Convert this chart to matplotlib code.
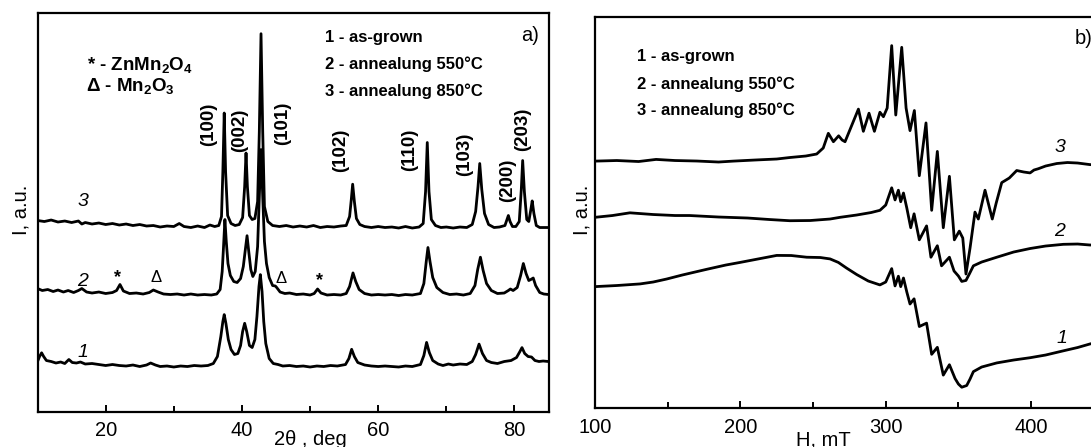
import matplotlib
matplotlib.use('Agg')
import matplotlib.pyplot as plt

plt.rcParams['font.family'] = ['Liberation Sans', 'DejaVu Sans']
plt.rcParams['mathtext.fontset'] = 'custom'
plt.rcParams['mathtext.rm'] = 'Liberation Sans:bold'
plt.rcParams['mathtext.it'] = 'Liberation Sans:bold'

# a) XRD, 2theta (deg) and intensity (a.u.)
tt3 = [10, 11, 12, 13, 14, 15, 16, 16.5, 17, 18, 19, 20, 21, 22, 23, 24, 25, 26, 27, 28, 29, 30, 30.8, 31.5,
       32.5, 33.5, 34.5, 35.3, 36, 36.6, 37.0, 37.2, 37.4, 37.6, 37.9, 38.4, 39.0, 39.6, 40.1, 40.4, 40.6, 40.8,
       41.1, 41.5, 41.9, 42.3, 42.55, 42.8, 43.05, 43.3, 43.8, 44.5, 45.5, 46.5, 47.5, 48.5, 49.5, 50.5, 51.5,
       52.5, 53.5, 54.5, 55.3, 55.8, 56.05, 56.25, 56.5, 56.8, 57.3, 58, 59, 60, 61, 62, 63, 64, 65, 66, 66.6,
       66.95, 67.2, 67.45, 67.8, 68.4, 69.2, 70, 71, 72, 73, 73.8, 74.3, 74.65, 74.9, 75.2, 75.6, 76.2, 77, 77.8,
       78.6, 78.9, 79.1, 79.35, 79.7, 80.2, 80.7, 81.0, 81.2, 81.45, 81.8, 82.1, 82.4, 82.6, 82.85, 83.2, 83.7,
       84.3, 85]
xrd3 = [191, 190, 191.5, 189.5, 190.5, 189, 190.5, 187.5, 189, 187.5, 188.5, 187, 188, 186.5, 187.5, 186, 187,
        185.5, 186, 184.5, 185.5, 185, 188, 185, 184, 185.5, 184, 186.5, 185, 186, 195, 240, 298.5, 240, 196,
        188, 186, 187, 194, 225, 258.5, 225, 196, 192, 193, 210, 280, 377.8, 280, 205, 190, 186, 185, 186,
        184.5, 185.5, 184.5, 186, 184, 185, 184.5, 185.5, 186, 195, 212, 227.3, 210, 193, 187, 185, 184, 185,
        184, 184.5, 183.5, 185, 183.5, 184.5, 188, 220, 269, 220, 192, 186, 184, 184.5, 183.5, 184.5, 184, 187,
        200, 225, 248, 222, 198, 187, 184, 184.5, 186, 192, 196, 190, 185, 185, 190, 222, 251, 220, 192, 190,
        202, 210.6, 198, 186, 184, 184, 184]

tt2 = [10, 10.7, 11.5, 12.3, 13, 13.8, 14.5, 15.3, 16, 16.5, 17.2, 18, 19, 20, 21, 21.6, 22.1, 22.6, 23.5, 24.5,
       25.5, 26.4, 27, 27.7, 28.5, 29.5, 30.5, 31.5, 32.5, 33.5, 34.5, 35.5, 36.3, 36.8, 37.1, 37.3, 37.5, 37.7,
       37.95, 38.3, 38.8, 39.3, 39.8, 40.2, 40.5, 40.75, 41.0, 41.3, 41.6, 41.95, 42.3, 42.55, 42.8, 43.05, 43.3,
       43.6, 44.0, 44.5, 44.9, 45.1, 45.6, 46.3, 47, 48, 49, 50, 50.6, 51.1, 51.6, 52.5, 53.5, 54.5, 55.3, 55.8,
       56.3, 56.7, 57.2, 58, 59, 60, 61, 62, 63, 64, 65, 66.2, 66.7, 67.05, 67.3, 67.6, 68.0, 68.6, 69.5, 70.5,
       71.5, 72.5, 73.5, 74.2, 74.6, 75.0, 75.4, 75.9, 76.6, 77.5, 78.5, 79.1, 79.4, 79.8, 80.4, 80.9, 81.3, 81.7,
       82.1, 82.4, 82.75, 83.1, 83.7, 84.3, 85]
xrd2 = [123, 121, 122, 120, 121.5, 119.5, 121, 119, 121, 123, 119.5, 118.5, 119.5, 118, 119, 121, 127, 120.5,
        118, 118.5, 117.5, 119, 121.5, 119.5, 117.5, 117, 117.5, 116.5, 117.5, 116.5, 117, 116.5, 117.5, 122,
        140, 165, 192, 170, 148, 136, 130, 129, 133, 145, 162, 175.8, 160, 142, 135, 140, 165, 215, 262, 215,
        170, 148, 134, 126, 125.5, 124, 119.5, 118, 118.5, 117, 117.5, 116.5, 118, 122.5, 118.5, 116.5, 117,
        116.5, 118, 125, 138.6, 130, 122, 118, 116.5, 117, 116.5, 117, 116, 117, 116.5, 118, 128, 150, 164, 150,
        134, 124, 119, 117, 117.5, 116.5, 118, 126, 142, 154.3, 141, 128, 121, 118, 118.5, 121, 122.5, 121, 124,
        136, 148, 138, 131, 132, 133.5, 126, 119, 117.5, 117]

tt1 = [10, 10.3, 10.6, 10.9, 11.3, 12, 12.7, 13.4, 14, 14.6, 15.1, 15.7, 16.3, 17, 18, 19, 20, 21, 22, 23, 24,
       25, 26, 26.6, 27.3, 28, 29, 30, 31, 32, 33, 34, 35, 35.8, 36.4, 36.9, 37.2, 37.4, 37.65, 38.0, 38.4, 38.9,
       39.4, 39.8, 40.1, 40.4, 40.7, 41.1, 41.5, 41.9, 42.2, 42.5, 42.7, 42.95, 43.2, 43.5, 44.0, 44.6, 45.3, 46,
       47, 48, 49, 50, 51, 52, 53, 54, 55.2, 55.7, 56.1, 56.5, 57.0, 58, 59, 60, 61, 62, 63, 64, 65, 66.2, 66.7,
       67.1, 67.5, 68, 68.8, 69.5, 70.3, 71, 72, 73, 73.8, 74.3, 74.8, 75.3, 75.9, 76.6, 77.5, 78.5, 79.5, 80.3,
       80.8, 81.1, 81.5, 82.0, 82.5, 83.0, 83.6, 84.2, 85]
xrd1 = [50, 55, 58.7, 55, 51, 50, 48.5, 49.5, 48, 52, 49, 48.5, 49.5, 47.5, 48, 47, 46, 47, 46, 45.5, 46.5, 45,
        46.5, 48.5, 46.5, 45, 45.5, 44.5, 45.5, 45, 46, 45.5, 46, 48, 55, 75, 90, 96.9, 88, 72, 62, 57, 58, 66,
        80, 88.2, 80, 66, 64, 72, 95, 125, 136.9, 120, 90, 68, 53, 48, 47, 45.5, 46, 45, 45.5, 44.5, 45.5, 45,
        46, 45.5, 47, 53, 62.2, 55, 49, 46.5, 45.5, 45, 45.5, 45, 44.5, 45.5, 45, 47, 56, 69.1, 59, 51, 47.5, 46,
        47.5, 46.5, 47.5, 47, 50, 57, 67.4, 58, 51, 49, 48, 50, 51, 54, 60, 63.9, 58, 55, 54.5, 51, 50, 50.5, 50]

hkl_labels = ['(100)', '(002)', '(101)', '(102)', '(110)', '(103)', '(200)', '(203)']
hkl_x = [35.1, 39.65, 46.0, 54.55, 64.6, 72.7, 79.0, 81.25]
hkl_y = [287.5, 281.5, 288.5, 261.5, 261.5, 257.5, 231.5, 282.5]

# b) EPR, field (mT) and signal (a.u.)
h3 = [100, 115, 130, 142, 155, 170, 185, 195, 210, 225, 234, 245, 252.5, 257, 260.5, 264, 267.6, 270, 272, 276.6,
      281.2, 284.6, 288.5, 292.2, 296, 298.4, 301, 304.1, 306.9, 311, 314, 316.7, 319.7, 323.1, 327.7, 331.6,
      335.5, 339.6, 343.8, 347.2, 350.6, 353, 355.2, 358, 361.4, 363.7, 368.3, 373.3, 376, 379.8, 385, 390.1,
      395, 399.3, 402, 405, 410, 417.7, 425, 432, 440.6, 450]
epr3 = [246.9, 247.5, 246.5, 248.6, 247.5, 247, 246, 246.9, 248, 249, 250.5, 252, 254, 260, 274.7, 266.3, 272.2,
        268, 266.3, 282.6, 298.9, 276.7, 294.8, 276.7, 295.8, 291.3, 300, 362.4, 293, 360.7, 300, 277.4, 297.5,
        232.3, 285.1, 197.7, 256.6, 180.3, 231.7, 168.2, 176.9, 170, 134, 160, 195.9, 189, 217.8, 189, 205,
        225.4, 230, 237.5, 236, 235.1, 238, 239.3, 242, 244.5, 245.5, 245, 243.4, 243]

h2 = [100, 112, 124, 140, 155, 165, 185, 205, 220, 234, 248, 261.7, 268.6, 280, 290, 296, 300, 304.1, 306.4,
      308.7, 310.3, 312.2, 314.5, 317.2, 319.5, 323.1, 328.1, 331.1, 335.5, 338.4, 343.8, 347, 350, 352.3, 355.2,
      357.5, 360.3, 366, 376.4, 388, 399.3, 410, 422.2, 432, 440.6, 450]
epr2 = [190.7, 192.5, 195.2, 193.5, 192.5, 192.5, 191, 190, 188.5, 187.3, 187.5, 189, 190.7, 193, 195.5, 197.7,
        203, 220.2, 208.1, 217.8, 206.3, 215, 200, 180.3, 194.2, 168.2, 182.1, 150.8, 162.3, 142.2, 150.8, 137,
        132, 126.6, 127.6, 134, 142.2, 146, 150.8, 156, 159.5, 162, 163.7, 164, 163, 163.5]

h1 = [100, 115, 131, 140, 149.3, 160, 176.8, 190, 199.8, 212, 225, 235, 245.6, 255, 261.7, 267.4, 273, 280, 288,
      296, 300, 304.1, 306.4, 308.7, 310.3, 312.2, 314.5, 316.7, 319.5, 323.1, 328.1, 331.6, 335.5, 339.6, 343.8,
      347.7, 350, 352.3, 355.7, 358, 360.3, 366, 376.4, 388, 399.3, 410, 422.2, 432, 440.6, 450]
epr1 = [121.4, 122.5, 124.1, 126, 129, 133, 138.7, 143, 145.6, 149, 152.6, 152.5, 150.8, 150.5, 149.1, 145.6, 140,
        133.5, 127, 123.1, 126, 139.4, 122.1, 131.8, 121.4, 130, 116, 104, 109.2, 81.5, 84.9, 53.7, 60.7, 32.9,
        43.3, 29.5, 24, 20.8, 22.5, 29, 36.4, 41, 45.1, 48, 50.3, 53, 57.2, 60.5, 64.1, 67]

legend = ['1 - as-grown', '2 - annealung 550°C', '3 - annealung 850°C']

fig = plt.figure(figsize=(10.91, 4.47), dpi=100)
ax1 = fig.add_axes([0.0344, 0.0794, 0.4684, 0.8908])
ax2 = fig.add_axes([0.5454, 0.0872, 0.4663, 0.8754])

lw = 2.0
ax1.plot(tt3, xrd3, color='black', lw=lw)
ax1.plot(tt2, xrd2, color='black', lw=lw)
ax1.plot(tt1, xrd1, color='black', lw=lw)
ax1.set_xlim(10, 85)
ax1.set_ylim(0, 398.2)
ax1.set_xticks([20, 40, 60, 80])
ax1.set_xticks([30, 50, 70], minor=True)

ax2.plot(h3, epr3, color='black', lw=lw)
ax2.plot(h2, epr2, color='black', lw=lw)
ax2.plot(h1, epr1, color='black', lw=lw)
ax2.set_xlim(100, 450)
ax2.set_ylim(0, 391.3)
ax2.set_xticks([100, 200, 300, 400])
ax2.set_xticks([150, 250, 350], minor=True)

for ax in (ax1, ax2):
    ax.set_yticks([])
    for s in ax.spines.values():
        s.set_linewidth(1.6)
    ax.tick_params(axis='x', which='major', direction='in', length=5, width=1.4, labelsize=14.5, pad=7)
    ax.tick_params(axis='x', which='minor', direction='in', length=4, width=1.4)

# panel a) annotations
for lab, x, y in zip(hkl_labels, hkl_x, hkl_y):
    ax1.text(x, y, lab, rotation=90, ha='center', va='center', fontsize=13.5, fontweight='bold')
ax1.text(17.3, 342, '* - ZnMn$_2$O$_4$', fontsize=13.5, fontweight='bold', va='baseline')
ax1.text(17.1, 320.5, 'Δ - Mn$_2$O$_3$', fontsize=13.5, fontweight='bold', va='baseline')
for lab, y in zip(legend, [369.8, 342.7, 316]):
    ax1.text(52.2, y, lab, fontsize=12, fontweight='bold', va='baseline')
ax1.text(81.0, 376.5, 'a)', fontsize=14.5, va='center')
ax1.text(16.6, 209.9, '3', fontsize=14, style='italic', ha='center', va='center')
ax1.text(16.6, 130, '2', fontsize=14, style='italic', ha='center', va='center')
ax1.text(16.7, 58.7, '1', fontsize=14, style='italic', ha='center', va='center')
ax1.text(21.8, 133.5, '*', fontsize=13, fontweight='bold', ha='center', va='center')
ax1.text(27.35, 134.5, 'Δ', fontsize=12, ha='center', va='center')
ax1.text(45.75, 133.5, 'Δ', fontsize=12, ha='center', va='center')
ax1.text(51.45, 130.5, '*', fontsize=13, fontweight='bold', ha='center', va='center')

# panel b) annotations
for lab, y in zip(legend, [347.1, 319.2, 293.1]):
    ax2.text(129.1, y, lab, fontsize=12, fontweight='bold', va='baseline')
ax2.text(430.2, 370, 'b)', fontsize=14.5, va='center')
ax2.text(419.9, 260.1, '3', fontsize=14, style='italic', ha='center', va='center')
ax2.text(419.9, 176.9, '2', fontsize=14, style='italic', ha='center', va='center')
ax2.text(421.5, 69.3, '1', fontsize=14, style='italic', ha='center', va='center')

fig.text(21 / 1091, 1 - 210 / 447, 'I, a.u.', rotation=90, fontsize=14.5, ha='center', va='center')
fig.text(582 / 1091, 1 - 210 / 447, 'I, a.u.', rotation=90, fontsize=14.5, ha='center', va='center')
fig.text(310 / 1091, 2 / 447, '2θ , deg', fontsize=14.5, ha='center', va='baseline')
fig.text(823.5 / 1091, 2 / 447, 'H, mT', fontsize=14.5, ha='center', va='baseline')

fig.savefig('out.png', dpi=100)
